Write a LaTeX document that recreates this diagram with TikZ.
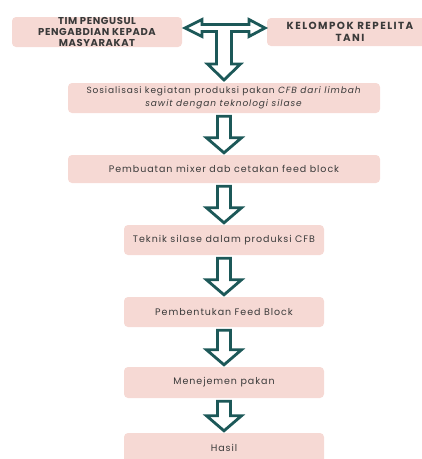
\documentclass[tikz,border=0pt]{standalone}
\usepackage{fontspec}
\setmainfont{Poppins}
\newfontfamily\bodyfont[LetterSpace=10]{Poppins}
\newfontfamily\headfont[LetterSpace=6]{Poppins}
\newfontfamily\kelfont[LetterSpace=14]{Poppins}
\usetikzlibrary{calc}
\definecolor{boxpink}{HTML}{F6D9D4}
\definecolor{teal}{HTML}{1C5858}
\definecolor{txt}{HTML}{3A3A3A}
\newcommand\fatdown[2]{%
  \path[arr] let \p1=(#1.south), \p2=(#2.north) in
    (\x1-6.5pt,\y1-3pt) -- (\x1-6.5pt,\y2+17pt) -- (\x1-17.5pt,\y2+17pt)
    -- (\x1,\y2+2pt) -- (\x1+17.5pt,\y2+17pt) -- (\x1+6.5pt,\y2+17pt)
    -- (\x1+6.5pt,\y1-3pt) -- cycle;}
\begin{document}
\begin{tikzpicture}[x=1pt,y=-1pt,
  box/.style={fill=boxpink, rounded corners=4pt, inner sep=0pt, text=txt, align=center},
  hd/.style={box, font=\headfont\fontsize{10}{11}\selectfont\bfseries},
  kd/.style={box, font=\kelfont\fontsize{10.3}{11.5}\selectfont\bfseries},
  sos/.style={box, font=\bodyfont\fontsize{9}{12.5}\selectfont},
  bd/.style={box, font=\bodyfont\fontsize{9.5}{12}\selectfont},
  arr/.style={draw=teal, line width=2.8pt, fill=white, line join=miter}]
\useasboundingbox (0,0) rectangle (422,459);
\clip (0,0) rectangle (422,459);
\node[hd, minimum width=170pt, minimum height=30pt] (tim) at (97,32)
  {TIM PENGUSUL\\PENGABDIAN KEPADA\\MASYARAKAT};
\node[kd, minimum width=166pt, minimum height=28pt] (kel) at (350,32)
  {KELOMPOK REPELITA\\TANI};
\node[sos, minimum width=312pt, minimum height=30pt] (b2) at (224,98)
  {Sosialisasi kegiatan produksi pakan \textit{CFB dari limbah}\\\textit{sawit dengan teknologi silase}};
\node[bd, minimum width=312pt, minimum height=28pt] (b3) at (224,169)
  {Pembuatan mixer dab cetakan feed block};
\node[bd, minimum width=200pt, minimum height=30pt] (b4) at (224,240)
  {Teknik silase dalam produksi CFB};
\node[bd, minimum width=200pt, minimum height=30pt] (b5) at (224,312)
  {Pembentukan Feed Block};
\node[bd, minimum width=200pt, minimum height=31pt] (b6) at (224,382.5)
  {Menejemen pakan};
\node[bd, minimum width=200pt, minimum height=30pt] (b7) at (224,448)
  {Hasil};
% T-shaped double arrow
\path[arr] (202,24.5) -- (249,24.5) -- (249,19.5) -- (265,28) -- (249,36.5)
  -- (249,31.5) -- (231.5,31.5) -- (231.5,64) -- (240.5,64) -- (224,80)
  -- (207.5,64) -- (216.5,64) -- (216.5,31.5) -- (202,31.5) -- (202,36.5)
  -- (185,28) -- (202,19.5) -- cycle;
\fatdown{b2}{b3}
\fatdown{b3}{b4}
\fatdown{b4}{b5}
\fatdown{b5}{b6}
\fatdown{b6}{b7}
\end{tikzpicture}
\end{document}
